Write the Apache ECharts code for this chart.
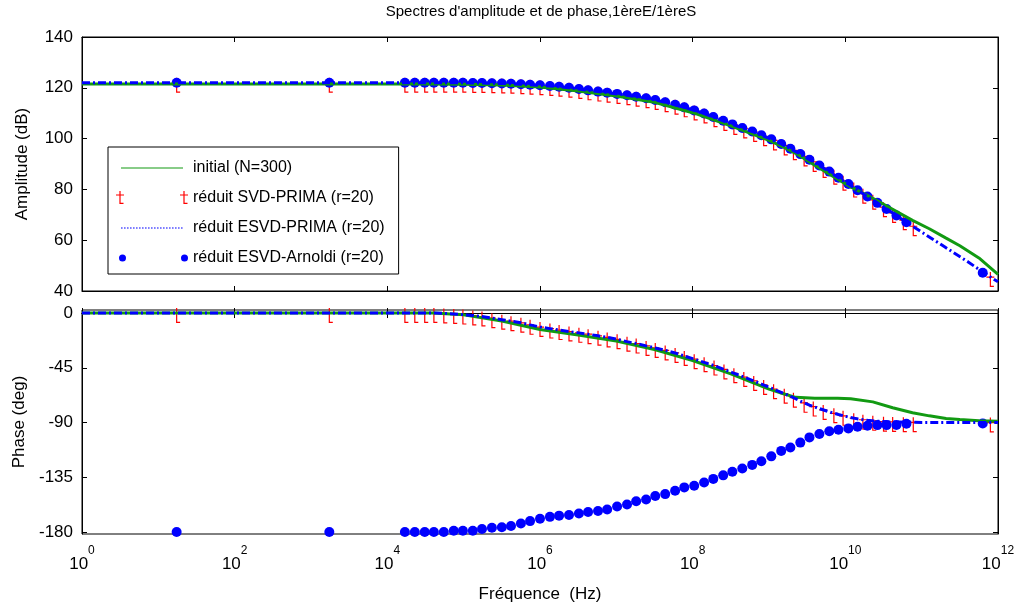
<!DOCTYPE html>
<html><head><meta charset="utf-8">
<script src="https://cdn.jsdelivr.net/npm/echarts@6/dist/echarts.min.js"></script>
<style>html,body{margin:0;padding:0;background:#fff}#c{width:1021px;height:608px}</style>
</head><body><div id="c"></div>
<script>
// ---------- data (log10 of frequency in Hz) ----------
const seriesNames = ['initial (N=300)', 'réduit SVD-PRIMA (r=20)', 'réduit ESVD-PRIMA (r=20)', 'réduit ESVD-Arnoldi (r=20)'];
const phaseTicks = [-180, -135, -90, -45, 0];

// initial (N=300)
const initExp   = [0, 4.6, 5.0, 5.5, 6.0, 6.5, 7.0, 7.5, 8.0, 8.5, 9.0, 9.2, 9.35, 9.6, 9.9, 10.07, 10.36, 10.62, 10.88, 11.1, 11.32, 11.5, 11.75, 12];
const initAmp   = [121.5, 121.5, 121.4, 121.1, 120.3, 118.7, 116.8, 114.3, 110.2, 105.0, 99.3, 96.5, 94.2, 89.5, 84.0, 81.0, 76.5, 72.2, 67.8, 64.5, 60.8, 57.8, 53.0, 46.5];
const initPhase = [0, 0, -1.5, -6.5, -13.5, -18, -23, -30, -39, -50, -62.5, -66.5, -69.3, -70, -70, -70.5, -73, -77.8, -82, -84.5, -86.6, -87.5, -88.6, -89];

// réduit ESVD-PRIMA (line)
const esvdExp = [0, 1.24, 3.24, 4.23, 4.36, 4.49, 4.61, 4.74, 4.87, 4.99, 5.12, 5.24, 5.37, 5.50, 5.62, 5.75, 5.87, 6.00, 6.13, 6.25, 6.38, 6.51, 6.63, 6.76, 6.88, 7.01, 7.14, 7.26, 7.39, 7.51, 7.64, 7.77, 7.89, 8.02, 8.15, 8.27, 8.40, 8.52, 8.65, 8.78, 8.90, 9.03, 9.16, 9.28, 9.41, 9.53, 9.66, 9.79, 9.91, 10.04, 10.16, 10.29, 10.42, 10.54, 10.67, 10.80, 11.0, 11.3, 11.6, 11.8, 12.0];
const esvdAmp = [122.0, 122.0, 122.0, 122.0, 122.0, 122.0, 122.0, 122.0, 122.0, 122.0, 121.9, 121.9, 121.8, 121.7, 121.6, 121.4, 121.2, 121.0, 120.7, 120.4, 120.0, 119.5, 119.0, 118.5, 118.1, 117.6, 117.1, 116.5, 115.9, 115.2, 114.3, 113.3, 112.3, 111.1, 109.9, 108.5, 107.0, 105.6, 104.2, 102.8, 101.3, 99.7, 97.9, 96.0, 93.9, 91.7, 89.4, 87.0, 84.6, 82.1, 79.7, 77.2, 74.7, 72.3, 69.7, 67.1, 63.2, 57.4, 51.6, 47.5, 43.6];
const esvdPhase = [0, 0, 0, 0, 0, 0, 0, -0.3, -0.8, -1.3, -2.0, -2.9, -4.2, -5.5, -6.7, -8.0, -9.7, -11.5, -12.8, -14.0, -15.2, -16.3, -17.4, -18.7, -20.0, -21.6, -23.5, -25.1, -27.0, -28.7, -30.7, -32.8, -35.3, -37.9, -40.5, -43.0, -46.1, -49.0, -52.1, -55.3, -58.4, -61.8, -65.2, -68.4, -72.3, -75.7, -78.5, -81.2, -83.4, -85.5, -87.0, -88.2, -88.9, -89.4, -89.6, -89.7, -90, -90, -90, -90, -90];

// réduit SVD-PRIMA (markers)
const svdExp = [1.24, 3.24, 4.23, 4.36, 4.49, 4.61, 4.74, 4.87, 4.99, 5.12, 5.24, 5.37, 5.50, 5.62, 5.75, 5.87, 6.00, 6.13, 6.25, 6.38, 6.51, 6.63, 6.76, 6.88, 7.01, 7.14, 7.26, 7.39, 7.51, 7.64, 7.77, 7.89, 8.02, 8.15, 8.28, 8.41, 8.54, 8.67, 8.80, 8.93, 9.06, 9.20, 9.32, 9.46, 9.58, 9.71, 9.85, 9.97, 10.11, 10.23, 10.36, 10.50, 10.62, 10.76, 10.89, 11.90];
const svdAmp = [122.0, 122.0, 122.0, 122.0, 122.0, 122.0, 122.0, 122.0, 122.0, 121.9, 121.9, 121.8, 121.7, 121.6, 121.4, 121.2, 121.0, 120.7, 120.4, 120.0, 119.5, 119.0, 118.5, 118.1, 117.6, 117.1, 116.5, 115.9, 115.2, 114.3, 113.3, 112.3, 111.1, 109.9, 108.4, 106.9, 105.4, 104.0, 102.6, 100.9, 99.3, 97.3, 95.4, 93.0, 90.8, 88.4, 85.8, 83.4, 80.7, 78.3, 75.9, 73.0, 70.7, 67.9, 65.5, 45.5];
const svdPhase = [0, 0, 0, 0, 0, 0, -0.3, -0.8, -1.3, -2.0, -2.9, -4.2, -5.5, -6.7, -8.0, -9.7, -11.5, -12.8, -14.0, -15.2, -16.3, -17.4, -18.7, -20.0, -21.6, -23.5, -25.1, -27.0, -28.7, -30.7, -32.8, -35.3, -37.9, -40.5, -43.2, -46.3, -49.5, -52.6, -55.8, -59.1, -62.6, -66.3, -69.6, -73.8, -76.9, -79.6, -82.4, -84.5, -86.4, -87.7, -88.6, -89.3, -89.5, -89.7, -89.8, -90];

// réduit ESVD-Arnoldi (dots)
const arnExp = [1.24, 3.24, 4.23, 4.36, 4.49, 4.61, 4.74, 4.87, 4.99, 5.12, 5.24, 5.37, 5.50, 5.62, 5.75, 5.87, 6.00, 6.13, 6.25, 6.38, 6.51, 6.63, 6.76, 6.88, 7.01, 7.14, 7.26, 7.39, 7.51, 7.64, 7.77, 7.89, 8.02, 8.15, 8.27, 8.40, 8.52, 8.65, 8.78, 8.90, 9.03, 9.16, 9.28, 9.41, 9.53, 9.66, 9.79, 9.91, 10.04, 10.16, 10.29, 10.42, 10.54, 10.67, 10.80, 11.80];
const arnAmp = [122.0, 122.0, 122.0, 122.0, 122.0, 122.0, 122.0, 122.0, 122.0, 121.9, 121.9, 121.8, 121.7, 121.6, 121.4, 121.2, 121.0, 120.7, 120.4, 120.0, 119.5, 119.0, 118.5, 118.1, 117.6, 117.1, 116.5, 115.9, 115.2, 114.3, 113.3, 112.3, 111.1, 109.9, 108.5, 107.0, 105.6, 104.2, 102.8, 101.3, 99.7, 97.9, 96.0, 93.9, 91.7, 89.4, 87.0, 84.6, 82.1, 79.7, 77.2, 74.7, 72.3, 69.7, 67.1, 47.2];
const arnPhase = [-180, -180, -180, -180, -180, -180, -180, -179, -179, -179, -177.5, -176.5, -176, -175, -173, -171, -169, -167.5, -166.5, -166, -164.7, -163.5, -162.7, -161.5, -159, -157.3, -154.7, -153.2, -150.3, -148.8, -146, -143.3, -141.9, -139.2, -136.3, -133.4, -130.4, -127.8, -124.8, -121.8, -117.8, -113.3, -110.5, -106.5, -102.2, -99.4, -97.2, -95.9, -94.8, -93.4, -92.6, -92.1, -92.1, -92.0, -91.0, -90.7];

// ---------- helpers ----------
const FONT = 'Liberation Sans, Arial, Helvetica, sans-serif';
const pairs = (ex, vals) => ex.map((e, i) => [Math.pow(10, e), vals[i]]);
const ANCH = 'M0,0L0.01,0L0,0.01Z M72,14L71.99,14L72,13.99Z ';
let dotted = '';
for (let x = 5; x < 66; x += 3) dotted += 'M' + x + ',6.5L' + (x + 1.6) + ',6.5L' + (x + 1.6) + ',7.5L' + x + ',7.5Z ';
const icons = [
  'path://' + ANCH + 'M5,6.5L67,6.5L67,7.5L5,7.5Z',
  'path://' + ANCH + 'M0,3.4L8,3.4L8,4.6L0,4.6Z M3.4,0L4.6,0L4.6,13L3.4,13Z M4.6,11.8L7.5,11.8L7.5,13L4.6,13Z M64,3.4L72,3.4L72,4.6L64,4.6Z M67.4,0L68.6,0L68.6,13L67.4,13Z M68.6,11.8L71.5,11.8L71.5,13L68.6,13Z',
  'path://' + ANCH + dotted,
  'path://' + ANCH + 'M3,7A3.5,3.5 0 1,1 10,7A3.5,3.5 0 1,1 3,7Z M65,7A3.5,3.5 0 1,1 72,7A3.5,3.5 0 1,1 65,7Z'
];
const plusSym = 'path://M0,4.4L8,4.4L8,5.6L0,5.6Z M3.4,0L4.6,0L4.6,15L3.4,15Z M4.6,13.8L7.5,13.8L7.5,15L4.6,15Z';

const GREEN = '#129a12', RED = '#ff0000', BLUE = '#0000ff';
const axLine = { show: true, lineStyle: { color: '#000', width: 1 } };
const tick = { show: true, inside: true, length: 5, lineStyle: { color: '#000' } };

function xAx(grid, pos, labels) {
  return {
    type: 'log', logBase: 10, gridIndex: grid, position: pos, min: 1, max: 1e12, interval: 2,
    axisLine: axLine, axisTick: tick, splitLine: { show: false }, minorTick: { show: false },
    name: labels ? 'Fréquence  (Hz)' : '', nameLocation: 'middle', nameGap: 52,
    nameTextStyle: { fontFamily: FONT, fontSize: 17, color: '#000' },
    axisLabel: labels ? {
      show: true, margin: 11, color: '#000',
      formatter: v => '{b|10}{s|' + Math.round(Math.log10(v)) + '}',
      rich: {
        b: { fontFamily: FONT, fontSize: 17, color: '#000', lineHeight: 28, verticalAlign: 'bottom' },
        s: { fontFamily: FONT, fontSize: 12, color: '#000', lineHeight: 10, verticalAlign: 'top' }
      }
    } : { show: false }
  };
}
function yAx(grid, pos, min, max, extra, name) {
  return Object.assign({
    type: 'value', gridIndex: grid, position: pos, min: min, max: max,
    axisLine: axLine, axisTick: tick, splitLine: { show: false },
    name: name || '', nameLocation: 'middle', nameGap: 51, nameRotate: 90,
    nameTextStyle: { fontFamily: FONT, fontSize: 17, color: '#000' },
    axisLabel: { show: pos === 'left', fontFamily: FONT, fontSize: 17, color: '#000', margin: 9 }
  }, extra);
}

const phaseExtra = {
  axisLabel: { show: true, customValues: phaseTicks, fontFamily: FONT, fontSize: 17, color: '#000', margin: 9 },
  axisTick: Object.assign({}, tick, { customValues: phaseTicks })
};
const phaseExtraR = {
  axisLabel: { show: false },
  axisTick: Object.assign({}, tick, { customValues: phaseTicks })
};

const chart = echarts.init(document.getElementById('c'), null, { renderer: 'canvas' });
const option = {
  animation: false,
  backgroundColor: '#fff',
  title: {
    text: "Spectres d'amplitude et de phase,1èreE/1èreS",
    left: 541, top: 4, padding: 0, textAlign: 'center',
    textStyle: { fontFamily: FONT, fontSize: 15, fontWeight: 'normal', color: '#000' }
  },
  grid: [
    { left: 82, width: 916, top: 37, height: 254, show: true, borderColor: '#000', borderWidth: 1, backgroundColor: '#fff' },
    { left: 82, width: 916, top: 310, height: 224, show: true, borderColor: '#000', borderWidth: 1, backgroundColor: '#fff' }
  ],
  xAxis: [xAx(0, 'bottom', false), xAx(0, 'top', false), xAx(1, 'bottom', true), xAx(1, 'top', false)],
  yAxis: [
    yAx(0, 'left', 40, 140, { interval: 20 }, 'Amplitude (dB)'),
    yAx(0, 'right', 40, 140, { interval: 20 }),
    yAx(1, 'left', -181.6, 2.5, phaseExtra, 'Phase (deg)'),
    yAx(1, 'right', -181.6, 2.5, phaseExtraR)
  ],
  legend: {
    orient: 'vertical', left: 108, top: 147,
    padding: [13, 14, 8, 8], itemGap: 14, itemWidth: 72, itemHeight: 14,
    backgroundColor: '#fff', borderColor: '#000', borderWidth: 1,
    itemStyle: { borderWidth: 0, opacity: 1 },
    textStyle: { fontFamily: FONT, fontSize: 16, color: '#000', lineHeight: 16 },
    data: seriesNames.map((n, i) => ({ name: n, icon: icons[i] })),
    selectedMode: false
  },
  series: [
    { name: seriesNames[0], type: 'line', xAxisIndex: 0, yAxisIndex: 0, data: pairs(initExp, initAmp), showSymbol: false, symbol: 'none', color: GREEN, lineStyle: { color: GREEN, width: 3 } },
    { name: seriesNames[0], type: 'line', xAxisIndex: 2, yAxisIndex: 2, data: pairs(initExp, initPhase), showSymbol: false, symbol: 'none', color: GREEN, lineStyle: { color: GREEN, width: 3 } },
    { name: seriesNames[1], type: 'scatter', xAxisIndex: 0, yAxisIndex: 0, data: pairs(svdExp, svdAmp), symbol: plusSym, symbolSize: [8, 15], symbolOffset: [0, 2.5], color: RED, itemStyle: { color: RED, opacity: 1 } },
    { name: seriesNames[1], type: 'scatter', xAxisIndex: 2, yAxisIndex: 2, data: pairs(svdExp, svdPhase), symbol: plusSym, symbolSize: [8, 15], symbolOffset: [0, 2.5], color: RED, itemStyle: { color: RED, opacity: 1 } },
    { name: seriesNames[2], type: 'line', xAxisIndex: 0, yAxisIndex: 0, data: pairs(esvdExp, esvdAmp), showSymbol: false, symbol: 'none', color: BLUE, lineStyle: { color: BLUE, width: 3, type: [8, 3, 2, 3] } },
    { name: seriesNames[2], type: 'line', xAxisIndex: 2, yAxisIndex: 2, data: pairs(esvdExp, esvdPhase), showSymbol: false, symbol: 'none', color: BLUE, lineStyle: { color: BLUE, width: 3, type: [8, 3, 2, 3] } },
    { name: seriesNames[3], type: 'scatter', xAxisIndex: 0, yAxisIndex: 0, data: pairs(arnExp, arnAmp), symbol: 'circle', symbolSize: 10, color: BLUE, itemStyle: { color: BLUE, opacity: 1 } },
    { name: seriesNames[3], type: 'scatter', xAxisIndex: 2, yAxisIndex: 2, data: pairs(arnExp, arnPhase), symbol: 'circle', symbolSize: 10, color: BLUE, itemStyle: { color: BLUE, opacity: 1 } }
  ]
};
chart.setOption(option);
</script>
</body></html>
